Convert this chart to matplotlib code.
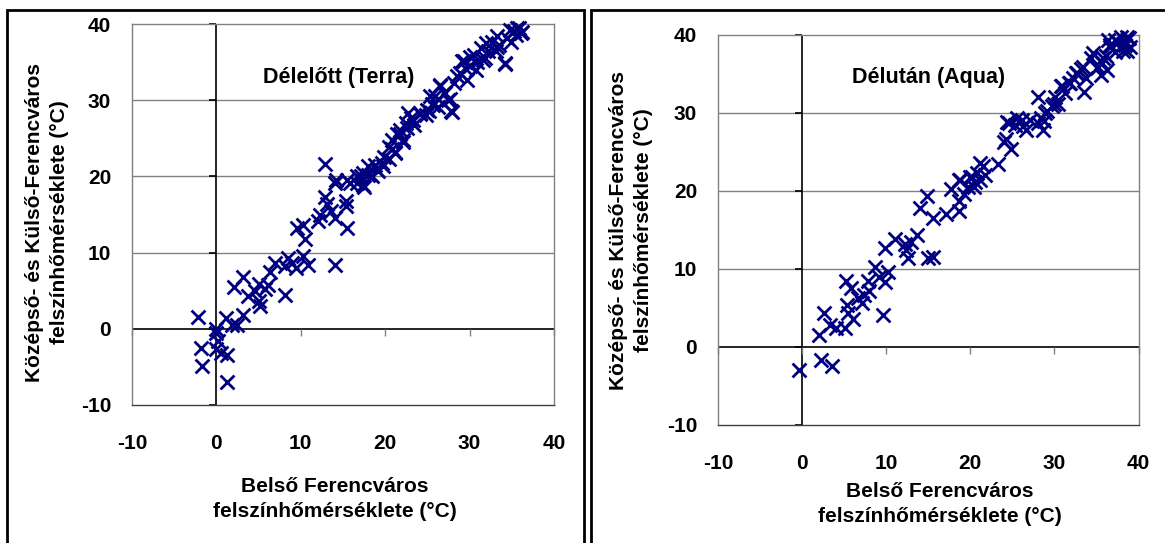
import matplotlib
matplotlib.use("Agg")
import matplotlib.pyplot as plt
from matplotlib.patches import Rectangle
from matplotlib.markers import TICKLEFT, TICKDOWN

plt.rcParams["font.family"] = ["Liberation Sans", "DejaVu Sans"]
plt.rcParams["font.weight"] = "bold"
plt.rcParams["axes.unicode_minus"] = False

# Délelőtt (Terra)
terra_x = [
    -2.2, -1.8, -1.7, 0.0, 0.0, 0.2, 0.0, 0.6, 1.3, 1.3, 1.1, 1.9, 2.4, 2.1,
    3.2, 3.2, 3.7, 4.6, 5.0, 5.0, 5.2, 5.7, 6.1, 6.3, 7.0, 8.1, 8.1, 8.5,
    9.0, 9.4, 9.6, 10.3, 10.3, 10.5, 10.9, 12.0, 12.3, 12.9, 12.9, 13.1,
    13.6, 14.0, 14.2, 14.0, 15.3, 15.3, 15.5, 15.5, 16.6, 17.1, 17.5, 18.0,
    18.4, 19.1, 19.7, 20.4, 20.8, 21.2, 21.7, 22.1, 22.6, 23.0, 23.4, 24.1,
    24.8, 25.2, 25.6, 25.9, 26.3, 26.5, 27.0, 27.4, 27.8, 28.1, 28.5, 29.1,
    29.6, 30.0, 30.5, 30.9, 31.3, 31.8, 32.2, 32.7, 33.1, 33.5, 34.2, 34.4,
    34.9, 35.3, 35.5, 36.2, 35.8,
    35.6, 34.8, 36.1, 33.2, 32.0, 34.2, 30.0, 29.3, 30.8, 31.6, 33.2, 29.7,
    28.9, 26.5, 27.1, 27.9, 27.7, 25.3, 25.7, 24.9, 24.1, 22.7, 23.3, 22.5,
    21.7, 21.4, 22.1, 20.8, 21.2, 20.4, 19.8, 18.8, 18.0, 17.4, 16.6, 17.4,
    15.8, 14.0, 19.0, 19.6,
]
terra_y = [
    1.6, -2.5, -4.9, 0.0, -0.5, -1.6, -2.7, -3.2, -3.4, -7.0, 1.4, 0.5, 0.5,
    5.5, 6.8, 1.8, 4.3, 5.0, 5.9, 3.6, 3.0, 5.2, 5.7, 7.5, 8.6, 4.5, 8.2, 9.3,
    8.6, 8.0, 13.2, 13.6, 9.5, 11.8, 8.4, 14.1, 15.0, 21.6, 17.3, 16.4, 15.5,
    14.5, 19.5, 8.4, 16.8, 16.1, 13.2, 19.5, 19.1, 20.0, 18.6, 20.2, 20.0,
    20.7, 21.4, 22.3, 23.6, 23.2, 25.5, 24.5, 26.4, 27.7, 26.8, 28.2, 28.0,
    28.6, 29.5, 30.5, 29.1, 31.8, 30.9, 30.0, 28.6, 32.3, 33.2, 35.2, 34.1,
    34.5, 35.9, 35.0, 36.8, 35.5, 36.4, 37.7, 36.4, 37.3, 34.8, 38.2, 37.7,
    39.1, 38.6, 38.9, 39.5,
    39.5, 39.2, 38.8, 38.4, 37.5, 34.9, 35.7, 35.1, 34.0, 35.3, 37.0, 32.7,
    33.6, 32.0, 30.9, 28.5, 30.1, 30.5, 29.4, 28.7, 28.3, 28.3, 27.4, 27.0,
    26.1, 25.5, 24.8, 24.8, 23.1, 23.9, 22.6, 21.5, 21.3, 20.4, 20.0, 18.9,
    19.1, 19.1, 20.9, 21.7,
]

# Délután (Aqua)
aqua_x = [
    -0.4, 2.2, 3.5, 2.0, 2.6, 3.3, 4.0, 5.1, 5.2, 5.3, 5.5, 5.8, 6.0, 6.6,
    7.1, 7.3, 7.8, 8.0, 8.7, 9.1, 9.6, 9.8, 9.8, 10.2, 11.1, 12.2, 12.4,
    12.6, 12.9, 13.7, 14.0, 14.8, 15.0, 15.5, 15.5, 17.1, 17.7, 18.6, 18.6,
    18.8, 19.3, 19.7, 20.2, 20.4, 20.6, 20.8, 21.1, 21.5, 21.7, 23.3, 24.0,
    24.2, 24.6, 24.8, 25.5, 26.2, 26.6, 28.0, 28.0, 28.4, 28.6, 28.8, 29.1,
    29.7, 30.4, 30.8, 31.3, 31.7, 32.2, 32.6, 33.1, 33.5, 33.7, 34.4, 35.0,
    35.5, 35.7, 36.1, 36.4, 36.6, 37.2, 37.5, 37.9, 38.4, 38.8, 38.6,
    38.6, 39.0, 37.2, 36.6, 38.2, 35.8, 34.6, 35.2, 36.2, 33.4, 32.7, 31.9,
    30.9, 30.1, 29.9, 28.9, 27.1, 26.1, 25.3, 24.3, 21.2, 20.0, 18.6,
]
aqua_y = [
    -3.0, -1.7, -2.4, 1.6, 4.3, 2.8, 2.5, 2.5, 8.5, 5.4, 4.3, 7.6, 3.6, 6.3,
    5.6, 6.7, 8.5, 7.2, 10.3, 9.0, 4.1, 8.3, 12.7, 9.6, 13.9, 13.2, 12.5,
    11.4, 13.4, 14.3, 17.8, 19.4, 11.4, 11.6, 16.5, 17.0, 20.3, 17.4, 18.7,
    21.4, 19.6, 20.5, 21.8, 20.5, 21.2, 22.3, 21.4, 23.2, 22.1, 23.4, 26.3,
    26.7, 28.7, 25.4, 29.4, 28.3, 27.8, 32.1, 28.7, 29.4, 27.8, 29.0, 30.3,
    30.9, 31.2, 33.4, 32.5, 33.8, 34.5, 35.1, 35.6, 32.7, 34.5, 37.1, 35.8,
    34.9, 36.4, 37.3, 39.3, 38.7, 37.8, 39.1, 39.8, 38.7, 39.6, 38.0,
    39.8, 38.5, 39.4, 38.5, 37.9, 37.0, 37.7, 35.9, 35.5, 35.9, 35.1, 33.8,
    33.4, 32.1, 31.2, 30.0, 29.1, 29.1, 28.5, 28.9, 23.6, 21.8, 21.4,
]

ticks = [-10, 0, 10, 20, 30, 40]
grid_y = [10, 20, 30]
xlabel = "Belső Ferencváros\nfelszínhőmérséklete (°C)"
ylabel = "Középső- és Külső-Ferencváros\nfelszínhőmérséklete (°C)"

W, H = 1165, 543
NAVY = "#000080"
GREY = "#808080"


def px(x, y):
    return x / W, 1 - y / H


def draw_panel(ax, xs, ys):
    ax.set_xlim(-10, 40)
    ax.set_ylim(-10, 40)
    for y in grid_y:
        ax.axhline(y, color=GREY, lw=1.0, zorder=1)
    ax.axhline(0, color="black", lw=1.2, zorder=2)
    ax.axvline(0, color="black", lw=1.2, zorder=2)
    # small outward ticks on the zero lines
    ax.plot([0] * len(ticks), ticks, ls="none", marker=TICKLEFT,
            ms=5, mew=1.2, color="black", zorder=2, clip_on=False)
    ax.plot(ticks, [0] * len(ticks), ls="none", marker=TICKDOWN,
            ms=5, mew=1.0, color=GREY, zorder=2, clip_on=False)
    ax.scatter(xs, ys, marker="x", s=100, linewidths=2.0, color=NAVY,
               zorder=3, clip_on=False)
    ax.set_xticks(ticks)
    ax.set_yticks(ticks)
    ax.tick_params(length=0, labelsize=15)
    ax.tick_params(axis="x", pad=21)
    ax.tick_params(axis="y", pad=15)
    for lab in ax.get_xticklabels() + ax.get_yticklabels():
        lab.set_fontweight("bold")
    for side in ["top", "right", "left"]:
        ax.spines[side].set_color(GREY)
        ax.spines[side].set_linewidth(1.0)
    ax.spines["bottom"].set_color("#404040")
    ax.spines["bottom"].set_linewidth(1.0)


fig = plt.figure(figsize=(W / 100, H / 100), dpi=100)

ax1 = fig.add_axes([132 / W, 1 - 405 / H, 422 / W, 381 / H])
draw_panel(ax1, terra_x, terra_y)
ax2 = fig.add_axes([718 / W, 1 - 425 / H, 420.6 / W, 390 / H])
draw_panel(ax2, aqua_x, aqua_y)

# panel titles
fig.text(*px(339, 77), "Délelőtt (Terra)", ha="center", va="center",
         fontsize=15.5, fontweight="bold")
fig.text(*px(929, 77), "Délután (Aqua)", ha="center", va="center",
         fontsize=15.5, fontweight="bold")

# axis labels
fig.text(*px(335, 499), xlabel, ha="center", va="center", fontsize=15,
         fontweight="bold", linespacing=1.35)
fig.text(*px(940, 504), xlabel, ha="center", va="center", fontsize=15,
         fontweight="bold", linespacing=1.35)
fig.text(*px(47, 222), ylabel, ha="center", va="center", rotation=90,
         fontsize=15, fontweight="bold", linespacing=1.35)
fig.text(*px(631, 230), ylabel, ha="center", va="center", rotation=90,
         fontsize=15, fontweight="bold", linespacing=1.35)

# outer panel frames
fig.add_artist(Rectangle((7 / W, -0.02), (584 - 7) / W, 1 - 10 / H + 0.02,
                         transform=fig.transFigure, fill=False,
                         edgecolor="black", lw=2.0))
fig.add_artist(Rectangle((591 / W, -0.02), 0.6, 1 - 10 / H + 0.02,
                         transform=fig.transFigure, fill=False,
                         edgecolor="black", lw=2.0))

fig.savefig("out.png", dpi=100)
